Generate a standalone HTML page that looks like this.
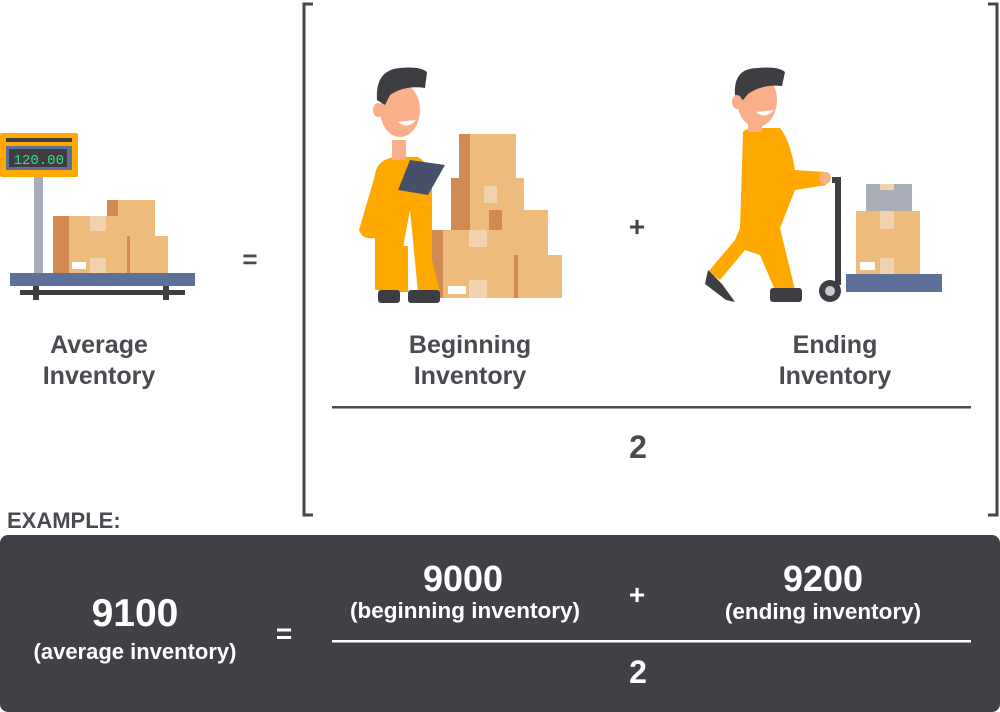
<!DOCTYPE html>
<html><head><meta charset="utf-8"><style>
html,body{margin:0;padding:0;background:#fff}
body{width:1000px;height:712px;overflow:hidden;position:relative;font-family:"Liberation Sans",sans-serif}
svg{position:absolute;left:0;top:0}
</style></head><body>
<svg width="1000" height="712" viewBox="0 0 1000 712" xmlns="http://www.w3.org/2000/svg" font-family="Liberation Sans, sans-serif" font-weight="bold">
<path d="M313 4 H304 V515 H313" fill="none" stroke="#45444a" stroke-width="3"/>
<path d="M988 4 H997 V515 H988" fill="none" stroke="#45444a" stroke-width="3"/>

<rect x="0" y="133" width="78" height="44" rx="2" fill="#ffa800"/>
<rect x="6" y="138" width="66" height="4" fill="#3e3d42"/>
<rect x="6" y="146" width="66" height="24" fill="#5d7099"/>
<rect x="9" y="149" width="58" height="18" fill="#3e3d42"/>
<text x="64" y="164" font-size="14" fill="#2ee08a" text-anchor="end" font-weight="normal" font-family="Liberation Mono, monospace">120.00</text>
<rect x="34" y="177" width="9" height="96" fill="#a8adb8"/>
<rect x="53" y="216" width="75" height="57" fill="#edbb7c"/>
<rect x="53" y="216" width="16" height="57" fill="#d18a52"/>
<rect x="107" y="200" width="48" height="73" fill="#edbb7c"/>
<rect x="107" y="200" width="11" height="16" fill="#d18a52"/>
<rect x="127" y="236" width="41" height="37" fill="#edbb7c"/>
<rect x="127" y="236" width="3" height="37" fill="#d18a52"/>
<rect x="90" y="216" width="16" height="15" fill="#f2d3b0"/>
<rect x="90" y="258" width="16" height="15" fill="#f2d3b0"/>
<rect x="72" y="262" width="14" height="7" fill="#fff"/>
<rect x="10" y="273" width="185" height="13" fill="#5d7099"/>
<rect x="20" y="290" width="165" height="5" fill="#3e3d42"/>
<rect x="33" y="286" width="6" height="14" fill="#3e3d42"/>
<rect x="163" y="286" width="6" height="14" fill="#3e3d42"/>

<rect x="459" y="134" width="57" height="120" fill="#edbb7c"/>
<rect x="459" y="134" width="11" height="120" fill="#d18a52"/>
<rect x="451" y="178" width="73" height="40" fill="#edbb7c"/>
<rect x="451" y="178" width="19" height="82" fill="#d18a52"/>
<rect x="476" y="210" width="72" height="45" fill="#edbb7c"/>
<rect x="489" y="210" width="13" height="45" fill="#d18a52"/>
<rect x="425" y="230" width="100" height="68" fill="#edbb7c"/>
<rect x="425" y="230" width="18" height="68" fill="#d18a52"/>
<rect x="514" y="255" width="48" height="43" fill="#edbb7c"/>
<rect x="514" y="255" width="4" height="43" fill="#d18a52"/>
<rect x="469" y="230" width="18" height="17" fill="#f2d3b0"/>
<rect x="469" y="280" width="18" height="18" fill="#f2d3b0"/>
<rect x="484" y="186" width="13" height="17" fill="#f2d3b0"/>
<rect x="448" y="286" width="18" height="8" fill="#fff"/>

<rect x="392" y="246" width="16" height="46" fill="#ffa800"/>
<path d="M375 185 Q372 160 395 157 L418 157 Q432 165 432 190 L432 260 L440 292 L418 292 L410 210 L395 290 L375 290 Z" fill="#ffa800"/>
<path d="M378 165 L359 230 Q362 240 375 238 L400 238 L400 225 L382 222 Z" fill="#ffa800"/>
<rect x="378" y="290" width="22" height="13" rx="3" fill="#3e3d42"/>
<rect x="408" y="290" width="32" height="13" rx="3" fill="#3e3d42"/>
<polygon points="410,160 445,165 428,195 398,190" fill="#46506a"/>
<rect x="392" y="140" width="14" height="20" fill="#f9b08a"/>
<ellipse cx="400" cy="110" rx="20" ry="27" fill="#f9b08a"/>
<path d="M377 100 Q375 70 400 68 Q420 66 427 72 L425 88 Q405 85 390 95 L385 105 Z" fill="#3e3d42"/>
<ellipse cx="378" cy="110" rx="5" ry="7" fill="#f9b08a"/>
<path d="M398 122 Q408 130 416 120 Z" fill="#fff"/>

<text x="637" y="236" font-size="28" fill="#45444a" text-anchor="middle">+</text>

<path d="M743 135 Q740 128 760 128 L780 128 Q790 140 795 170 L825 172 L826 185 L795 190 L780 228 L740 228 Z" fill="#ffa800"/>
<path d="M740 228 L780 228 L795 290 L775 290 L760 255 L745 250 L720 280 L708 272 L735 240 Z" fill="#ffa800"/>
<path d="M708 270 L722 284 L735 302 L726 300 L705 284 Z" fill="#3e3d42"/>
<rect x="770" y="288" width="32" height="14" rx="3" fill="#3e3d42"/>
<rect x="748" y="120" width="14" height="12" fill="#f9b08a"/>
<ellipse cx="757" cy="100" rx="20" ry="27" fill="#f9b08a"/>
<path d="M735 95 Q733 68 758 68 Q778 66 785 72 L782 86 Q762 84 748 94 L743 100 Z" fill="#3e3d42"/>
<ellipse cx="737" cy="102" rx="5" ry="7" fill="#f9b08a"/>
<path d="M756 112 Q765 120 774 110 Z" fill="#fff"/>
<circle cx="825" cy="178" r="6" fill="#f9b08a"/>
<path d="M832 180 H838 V285" fill="none" stroke="#3e3d42" stroke-width="6"/>
<rect x="846" y="274" width="96" height="18" fill="#5d7099"/>
<circle cx="830" cy="291" r="11" fill="#3e3d42"/>
<circle cx="830" cy="291" r="5" fill="#c8ccd2"/>
<rect x="866" y="184" width="46" height="28" fill="#a8adb8"/>
<rect x="880" y="184" width="14" height="6" fill="#f2d3b0"/>
<rect x="856" y="211" width="64" height="63" fill="#edbb7c"/>
<rect x="880" y="211" width="14" height="18" fill="#f2d3b0"/>
<rect x="880" y="258" width="14" height="16" fill="#f2d3b0"/>
<rect x="860" y="262" width="15" height="8" fill="#fff"/>

<g fill="#4a4a50" font-size="25" text-anchor="middle">
<text x="99" y="353">Average</text>
<text x="99" y="384">Inventory</text>
<text x="470" y="353">Beginning</text>
<text x="470" y="384">Inventory</text>
<text x="835" y="353">Ending</text>
<text x="835" y="384">Inventory</text>
<text x="250" y="268" font-size="26">=</text>
<text x="638" y="458" font-size="32">2</text>
</g>
<rect x="332" y="406" width="639" height="2.5" fill="#4a4a50"/>

<text x="7" y="528" font-size="22" fill="#4a4a50">EXAMPLE:</text>

<rect x="0" y="535" width="1000" height="177" rx="8" fill="#414046"/>
<g fill="#fff" text-anchor="middle">
<text x="135" y="626" font-size="39">9100</text>
<text x="135" y="659" font-size="22">(average inventory)</text>
<text x="284" y="643" font-size="28">=</text>
<text x="463" y="591" font-size="36">9000</text>
<text x="465" y="618" font-size="22.5">(beginning inventory)</text>
<text x="637" y="604" font-size="28">+</text>
<text x="823" y="591" font-size="36">9200</text>
<text x="823" y="619" font-size="22.5">(ending inventory)</text>
<text x="638" y="683" font-size="32">2</text>
</g>
<rect x="332" y="640" width="639" height="2.5" fill="#fff"/>
</svg>
</body></html>
